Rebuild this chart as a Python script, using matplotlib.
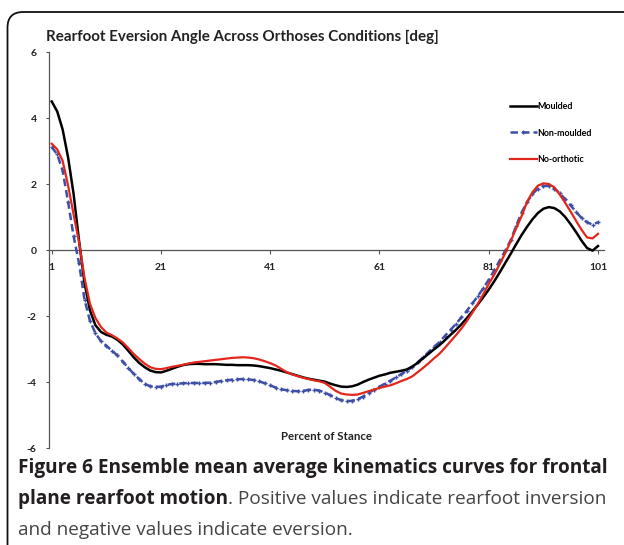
import matplotlib
matplotlib.use('Agg')
import matplotlib.pyplot as plt
from matplotlib.patches import FancyBboxPatch

# percent of stance (1..101)
stance = list(range(1, 102))

moulded = [4.5, 4.2, 3.65, 2.8, 1.7, 0.28, -1.0, -1.83, -2.28, -2.48,
           -2.57, -2.62, -2.72, -2.86, -3.05, -3.25, -3.42, -3.55, -3.65, -3.70,
           -3.71, -3.66, -3.60, -3.54, -3.49, -3.46, -3.45, -3.45, -3.46, -3.46,
           -3.46, -3.47, -3.48, -3.48, -3.49, -3.49, -3.49, -3.50, -3.52, -3.55,
           -3.58, -3.62, -3.66, -3.71, -3.76, -3.81, -3.86, -3.90, -3.93, -3.96,
           -3.99, -4.05, -4.10, -4.14, -4.15, -4.13, -4.08, -4.00, -3.93, -3.87,
           -3.81, -3.77, -3.72, -3.69, -3.66, -3.62, -3.53, -3.42, -3.28, -3.14,
           -3.01, -2.88, -2.73, -2.57, -2.42, -2.25, -2.06, -1.86, -1.65, -1.43,
           -1.20, -0.95, -0.68, -0.40, -0.12, 0.17, 0.45, 0.70, 0.93, 1.12,
           1.25, 1.30, 1.27, 1.17, 1.00, 0.78, 0.54, 0.28, 0.06, -0.02,
           0.12]

non_moulded = [3.12, 2.9, 2.4, 1.45, 0.42, -0.4, -1.5, -2.15, -2.52, -2.76,
               -2.90, -3.05, -3.19, -3.38, -3.57, -3.75, -3.91, -4.05, -4.13, -4.15,
               -4.14, -4.09, -4.06, -4.05, -4.04, -4.03, -4.03, -4.03, -4.03, -4.02,
               -4.00, -3.97, -3.95, -3.93, -3.92, -3.91, -3.92, -3.94, -3.98, -4.04,
               -4.10, -4.17, -4.22, -4.25, -4.27, -4.28, -4.27, -4.24, -4.23, -4.26,
               -4.32, -4.40, -4.49, -4.55, -4.58, -4.57, -4.52, -4.44, -4.33, -4.23,
               -4.14, -4.05, -3.96, -3.86, -3.76, -3.66, -3.55, -3.40, -3.25, -3.09,
               -2.93, -2.79, -2.60, -2.42, -2.24, -2.04, -1.84, -1.62, -1.40, -1.16,
               -0.90, -0.62, -0.32, -0.03, 0.29, 0.72, 1.13, 1.45, 1.70, 1.86,
               1.94, 1.94, 1.86, 1.72, 1.54, 1.35, 1.15, 0.97, 0.84, 0.77,
               0.84]

no_orthotic = [3.22, 3.05, 2.7, 1.95, 1.08, 0.24, -0.85, -1.63, -2.06, -2.33,
               -2.50, -2.58, -2.68, -2.80, -2.97, -3.15, -3.30, -3.44, -3.55, -3.60,
               -3.61, -3.58, -3.54, -3.51, -3.48, -3.44, -3.41, -3.39, -3.37, -3.35,
               -3.33, -3.31, -3.29, -3.27, -3.26, -3.25, -3.26, -3.28, -3.32, -3.37,
               -3.43, -3.50, -3.60, -3.70, -3.77, -3.82, -3.87, -3.91, -3.95, -3.98,
               -4.03, -4.15, -4.27, -4.35, -4.38, -4.39, -4.38, -4.33, -4.28, -4.23,
               -4.18, -4.14, -4.10, -4.04, -3.97, -3.91, -3.83, -3.70, -3.57, -3.43,
               -3.28, -3.14, -2.96, -2.77, -2.58, -2.38, -2.15, -1.90, -1.63, -1.34,
               -1.03, -0.75, -0.43, -0.10, 0.26, 0.65, 1.02, 1.45, 1.75, 1.95,
               2.02, 2.00, 1.90, 1.68, 1.43, 1.16, 0.88, 0.61, 0.38, 0.35,
               0.49]

x_ticks = [1, 21, 41, 61, 81, 101]
y_ticks = [-6, -4, -2, 0, 2, 4, 6]

W, H = 624, 545
fig = plt.figure(figsize=(W / 100.0, H / 100.0), dpi=100)
fig.patch.set_facecolor('white')

# rounded frame around the figure panel
frame = FancyBboxPatch((7.5 / W, -0.1), 1.2, 1.1 - 12.0 / H,
                       boxstyle="round,pad=0,rounding_size=0.025",
                       transform=fig.transFigure, fill=False,
                       edgecolor='#111111', linewidth=1.3, mutation_aspect=W / float(H))
fig.patches.append(frame)

ax = fig.add_axes([49.0 / W, (H - 448.0) / H, 555.0 / W, 396.0 / H])
ax.set_xlim(0.5, 102.1)
ax.set_ylim(-6, 6)

chart_font = 'Lato'
ax.plot(stance, moulded, color='black', lw=1.8, label='Moulded', zorder=4)
ax.plot(stance, non_moulded, color='#3d4fa6', lw=1.8, ls=(0, (3, 1.6)),
        marker='+', ms=3.5, mew=1.0, label='Non-moulded', zorder=3)
ax.plot(stance, no_orthotic, color='#e3261b', lw=1.6, label='No-orthotic', zorder=5)

for s in ['top', 'right']:
    ax.spines[s].set_visible(False)
ax.spines['bottom'].set_position(('data', 0))
for s in ['bottom', 'left']:
    ax.spines[s].set_color('#555555')
    ax.spines[s].set_linewidth(0.9)

ax.set_xticks(x_ticks)
ax.set_yticks(y_ticks)
ax.set_xticklabels([str(t) for t in x_ticks], fontfamily=chart_font,
                   fontweight='bold', fontsize=7.5, color='#222222')
ax.set_yticklabels([str(t) for t in y_ticks], fontfamily=chart_font,
                   fontweight='bold', fontsize=7.5, color='#222222')
ax.tick_params(axis='x', direction='out', length=3, width=0.8, color='#555555', pad=6)
ax.tick_params(axis='y', direction='out', length=2.2, width=0.8, color='#555555', pad=6.7)

ax.text(0.5, 0.028, 'Percent of Stance', transform=ax.transAxes, ha='center',
        va='center', fontfamily=chart_font, fontweight='bold', fontsize=8.3,
        color='#222222')

fig.text(46.0 / W, 1 - 37.0 / H, 'Rearfoot Eversion Angle Across Orthoses Conditions [deg]',
         ha='left', va='center', fontfamily=chart_font, fontweight='bold',
         fontsize=10.9, color='#222222')

leg = ax.legend(loc='upper left', bbox_to_anchor=(510.0 / W, 1 - 102.0 / H),
                bbox_transform=fig.transFigure, frameon=False, borderpad=0,
                borderaxespad=0, handlelength=3.0, handletextpad=0.1,
                labelspacing=1.97, prop={'family': chart_font, 'weight': 'bold', 'size': 6.4})

# caption
cap_dark = '#231f20'
cap_grey = '#444444'
cap_font = 'Open Sans'
cap_size = 13.7
fig.text(18.0 / W, 1 - 468.0 / H,
         'Figure 6 Ensemble mean average kinematics curves for frontal',
         ha='left', va='center', fontfamily=cap_font, fontweight='bold',
         fontsize=cap_size, color=cap_dark)
bold2 = fig.text(18.0 / W, 1 - 499.0 / H, 'plane rearfoot motion',
                 ha='left', va='center', fontfamily=cap_font, fontweight='bold',
                 fontsize=cap_size, color=cap_dark)
fig.canvas.draw()
bb = bold2.get_window_extent(renderer=fig.canvas.get_renderer())
fig.text(bb.x1 / W, 1 - 499.0 / H, '. Positive values indicate rearfoot inversion',
         ha='left', va='center', fontfamily=cap_font, fontsize=cap_size, color=cap_grey)
fig.text(18.0 / W, 1 - 530.0 / H, 'and negative values indicate eversion.',
         ha='left', va='center', fontfamily=cap_font, fontsize=cap_size, color=cap_grey)

fig.savefig('out.png', dpi=100)
